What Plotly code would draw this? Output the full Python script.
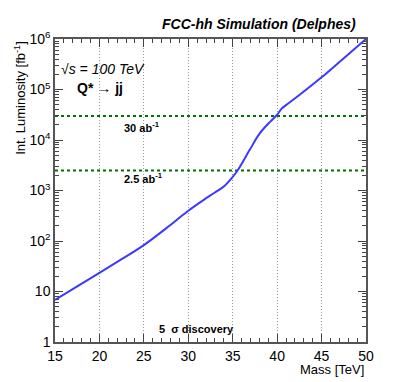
import plotly.graph_objects as go

# discovery reach
mass = [15, 17.5, 20, 22.5, 25, 27.5, 29, 30, 31.7, 33, 34, 35, 35.6, 36.9, 38, 39.2, 40, 40.5, 41, 42.5, 45, 47.5, 50]
lumi = [6.8, 12.6, 23.4, 43.6, 83, 178, 288, 398, 646, 912, 1202, 1862, 2570, 6310, 13200, 22900,
        31600, 41700, 49000, 77600, 174000, 417000, 1000000]

lumi_lines = [30000, 2500]

y_tickvals = [1, 10, 100, 1000, 10000, 100000, 1000000]
y_ticktext = ["1", "10", "10<sup>2</sup>", "10<sup>3</sup>", "10<sup>4</sup>", "10<sup>5</sup>", "10<sup>6</sup>"]
y_minor = [m * 10 ** k for k in range(6) for m in range(2, 10)]

fig = go.Figure()
for lv in lumi_lines:
    fig.add_trace(go.Scatter(x=[15, 50], y=[lv, lv], mode="lines",
                             line=dict(color="#007000", width=2, dash="dot"),
                             showlegend=False, hoverinfo="skip"))
fig.add_trace(go.Scatter(x=mass, y=lumi, mode="lines",
                         line=dict(color="#3a3aff", width=2, shape="spline", smoothing=1),
                         showlegend=False))

font = dict(family="Liberation Sans, Arial, sans-serif", color="black")

# page body has an 8px margin, so the figure is a bit smaller than the window
fig.update_layout(
    width=391, height=374,
    margin=dict(l=47, r=33, t=31, b=40),
    paper_bgcolor="white", plot_bgcolor="white",
    font=dict(font, size=13),
    xaxis=dict(range=[15, 50], tickvals=[15, 20, 25, 30, 35, 40, 45, 50],
               ticks="inside", ticklen=8, tickcolor="#444", mirror="allticks",
               showline=True, linecolor="#555", linewidth=1.5,
               showgrid=True, gridcolor="#999", griddash="1px,2px", gridwidth=1,
               minor=dict(dtick=1, ticks="inside", ticklen=4, tickcolor="#444", showgrid=False),
               tickfont=dict(font, size=14), zeroline=False),
    yaxis=dict(type="log", range=[0, 6], tickvals=y_tickvals, ticktext=y_ticktext,
               ticks="inside", ticklen=8, tickcolor="#444", mirror="allticks",
               showline=True, linecolor="#555", linewidth=1.5, showgrid=False,
               minor=dict(tickvals=y_minor, ticks="inside", ticklen=4, tickcolor="#444", showgrid=False),
               tickfont=dict(font, size=14), zeroline=False),
)

annots = [
    dict(x=1, y=-0.092, xref="paper", yref="paper", text="Mass [TeV]", xanchor="right", yanchor="middle",
         font=dict(font, size=13)),
    dict(x=-0.113, y=1, xref="paper", yref="paper", text="Int. Luminosity [fb<sup>-1</sup>]", textangle=-90,
         xanchor="center", yanchor="top", font=dict(font, size=13)),
    dict(x=0.975, y=1.05, xref="paper", yref="paper", text="<b><i>FCC-hh Simulation (Delphes)</i></b>",
         xanchor="right", yanchor="middle", font=dict(font, size=14)),
    dict(x=15.4, y=5.4, text="<i>√s = 100 TeV</i>", xanchor="left", yanchor="middle", font=dict(font, size=14)),
    dict(x=17.2, y=5.03, text="<b>Q*</b> → <b>jj</b>", xanchor="left", yanchor="middle", font=dict(font, size=14)),
    dict(x=22.5, y=4.26, text="<b>30 ab<sup>-1</sup></b>", xanchor="left", yanchor="middle", font=dict(font, size=11)),
    dict(x=22.5, y=3.25, text="<b>2.5 ab<sup>-1</sup></b>", xanchor="left", yanchor="middle", font=dict(font, size=11)),
    dict(x=26.5, y=0.26, text="<b>5  σ discovery</b>", xanchor="left", yanchor="middle", font=dict(font, size=11)),
]
for a in annots:
    a.setdefault("xref", "x")
    a.setdefault("yref", "y")
    a["showarrow"] = False
    fig.add_annotation(**a)

fig.write_html("out.html")
